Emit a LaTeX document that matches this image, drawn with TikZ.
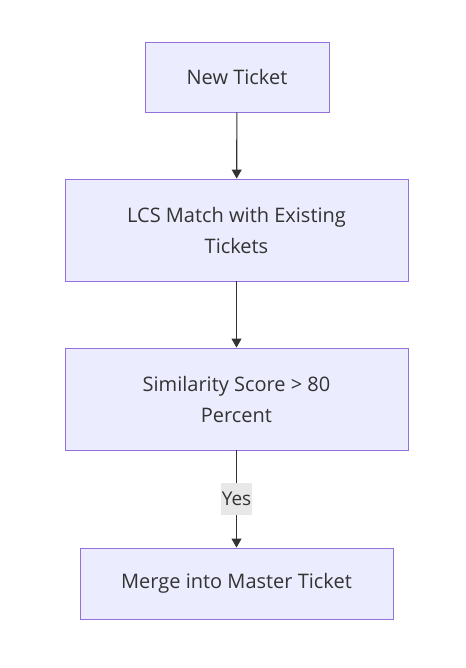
\documentclass[tikz,border=0pt]{standalone}
\usepackage{fontspec}
\setmainfont{Open Sans}
\usepackage{tikz}
\usetikzlibrary{positioning, arrows.meta, calc}

\definecolor{boxfill}{HTML}{ECECFF}
\definecolor{boxline}{HTML}{9370DB}
\definecolor{textcol}{HTML}{333333}
\definecolor{labelbg}{HTML}{E8E8E8}

\begin{document}
\begin{tikzpicture}[x=1pt, y=-1pt,
        flowbox/.style={draw=boxline, fill=boxfill, line width=0.9pt, text=textcol,
            align=center, inner sep=0pt, font=\fontsize{20}{31}\selectfont},
        flowline/.style={draw=textcol, line width=1.1pt, -{Triangle[length=9pt, width=10pt]}},
        edgelabel/.style={fill=labelbg, text=textcol, inner sep=0pt, minimum width=31pt,
            minimum height=32pt, font=\fontsize{19}{22}\selectfont}
    ]
        % page size
        \useasboundingbox (0,0) rectangle (465,668);

        % boxes
        \node[flowbox, minimum width=184pt, minimum height=70pt] (newticket) at (237,77) {New Ticket};
        \node[flowbox, minimum width=343pt, minimum height=102pt] (lcsmatch) at (236.5,230) {LCS Match with Existing\\Tickets};
        \node[flowbox, minimum width=343pt, minimum height=102pt] (similarity) at (236.5,399) {Similarity Score > 80\\Percent};
        \node[flowbox, minimum width=313pt, minimum height=71pt] (merge) at (236.5,583.5) {Merge into Master Ticket};

        % connectors
        \draw[flowline] (newticket) -- (lcsmatch);
        \draw[flowline] (lcsmatch) -- (similarity);
        \draw[flowline] (similarity) -- node[edgelabel] (yes) {Yes} (merge);
    \end{tikzpicture}
\end{document}
